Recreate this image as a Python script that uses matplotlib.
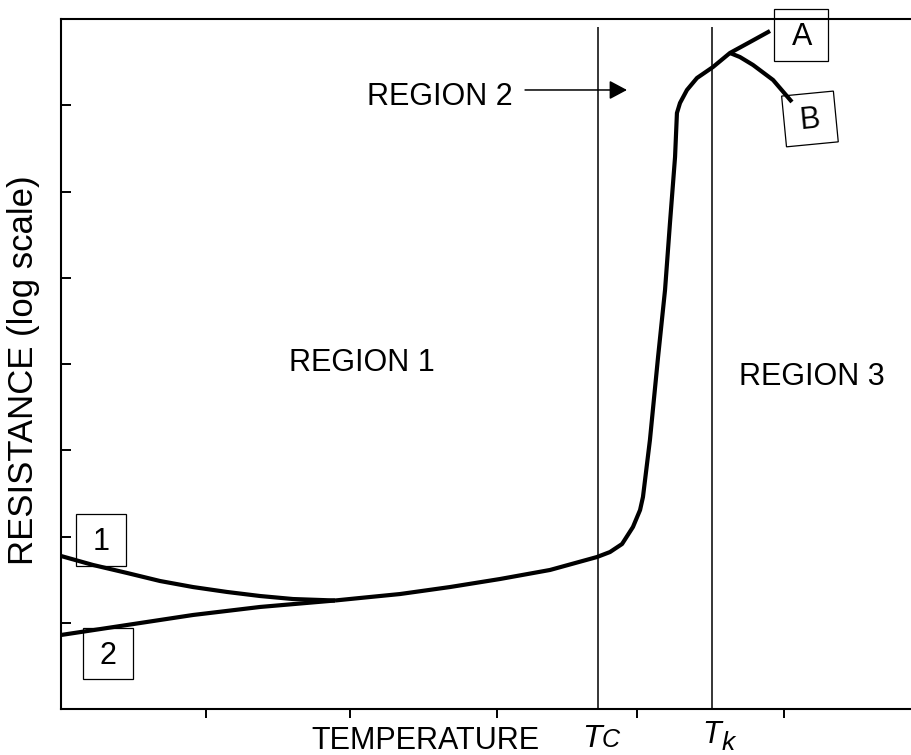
import matplotlib
matplotlib.use("Agg")
import matplotlib.pyplot as plt
from matplotlib.patches import Rectangle
import matplotlib.transforms as mtransforms

plt.rcParams['font.family'] = ['Liberation Sans', 'DejaVu Sans']

# ---- data (x: temperature units, y: log-resistance units) ----
curve1_x = [0.000, 0.220, 0.455, 0.682, 0.909, 1.143, 1.371, 1.598, 1.887]
curve1_y = [1.774, 1.670, 1.577, 1.484, 1.414, 1.357, 1.310, 1.275, 1.258]

curve2_x = [0.000, 0.455, 0.909, 1.371, 1.887]
curve2_y = [0.858, 0.974, 1.090, 1.183, 1.258]

main_x = [1.887, 2.059, 2.335, 2.679, 3.023, 3.368, 3.691, 3.781, 3.864, 3.939,
          3.988, 4.008, 4.056, 4.112, 4.160, 4.194, 4.229, 4.242, 4.263, 4.311,
          4.380, 4.490, 4.607, 4.745, 4.883]
main_y = [1.258, 1.287, 1.333, 1.414, 1.507, 1.612, 1.762, 1.820, 1.913, 2.110,
          2.307, 2.458, 3.119, 4.081, 4.858, 5.635, 6.400, 6.910, 7.026, 7.177,
          7.316, 7.443, 7.606, 7.733, 7.861]

branchB_x = [4.607, 4.676, 4.766, 4.904, 5.034]
branchB_y = [7.606, 7.559, 7.467, 7.293, 7.038]

Tc = 3.698
Tk = 4.483
x_ticks = [1.0, 1.99, 3.0, 3.97, 4.98]
y_ticks = [1, 2, 3, 4, 5, 6, 7]

W, H = 912, 755
fig = plt.figure(figsize=(W / 100, H / 100), dpi=100)
ax = fig.add_axes([61 / W, 46 / H, 851 / W, 690 / H])
ax.set_xlim(0, 851 / 145.2)
ax.set_ylim(0, 8)

ax.spines['right'].set_visible(False)
for s in ['left', 'top', 'bottom']:
    ax.spines[s].set_linewidth(1.5)

ax.set_xticks(x_ticks)
ax.set_xticklabels([])
ax.set_yticks(y_ticks)
ax.set_yticklabels([])
ax.tick_params(axis='x', direction='out', length=6.5, width=1.4)
ax.tick_params(axis='y', direction='in', length=7.5, width=1.4)

# vertical lines at Tc and Tk
ax.vlines([Tc, Tk], 0, 7.91, colors='black', linewidth=1.1)

lw = 3.0
kw = dict(color='black', linewidth=lw, solid_capstyle='butt', solid_joinstyle='round')
ax.plot(curve1_x, curve1_y, **kw)
ax.plot(curve2_x, curve2_y, **kw)
ax.plot(main_x, main_y, **kw)
ax.plot(branchB_x, branchB_y, **kw)

fs = 22
ax.text(2.073, 3.919, 'REGION 1', fontsize=fs, ha='center', va='baseline')
ax.text(5.172, 3.757, 'REGION 3', fontsize=fs, ha='center', va='baseline')
ax.text(2.610, 7.003, 'REGION 2', fontsize=fs, ha='center', va='baseline')
ax.annotate('', xy=(3.898, 7.177), xytext=(3.196, 7.177),
            arrowprops=dict(arrowstyle='-|>,head_length=0.9,head_width=0.48',
                            mutation_scale=12, lw=1.1, color='black',
                            shrinkA=0, shrinkB=0))

# labelled boxes
def box(cx, cy, w, h, angle=0.0):
    tr = (mtransforms.Affine2D().rotate_deg(angle)
          + mtransforms.ScaledTranslation(cx, cy, ax.transData))
    r = Rectangle((-w / 2, -h / 2), w, h, fill=False, edgecolor='black',
                  linewidth=0.9, transform=tr, clip_on=False)
    ax.add_patch(r)

box(0.2755, 1.959, 50, 52)
box(0.324, 0.643, 50, 51)
box(5.096, 7.814, 54, 52)
box(5.158, 6.841, 52, 51, angle=5.5)

ax.text(0.2755, 1.843, '1', fontsize=fs, ha='center', va='baseline')
ax.text(0.320, 0.522, '2', fontsize=fs, ha='center', va='baseline')
ax.text(5.103, 7.699, 'A', fontsize=fs, ha='center', va='baseline', clip_on=False)
ax.text(5.158, 6.823, 'B', fontsize=fs, ha='center', va='center', rotation=5.5,
        rotation_mode='anchor')

# axis labels
ax.set_xlabel('TEMPERATURE', fontsize=fs)
ax.xaxis.set_label_coords((425 - 61) / 851, (709 - 749) / 690)
ax.xaxis.label.set_verticalalignment('baseline')

ax.set_ylabel('RESISTANCE (log scale)', fontsize=25)
ax.yaxis.set_label_coords((40 - 61) / 851, (709 - 370) / 690)

def ftext(px, py, s, **k):
    fig.text(px / W, 1 - py / H, s, ha='center', va='baseline', style='italic', **k)

ftext(591.5, 747, 'T', fontsize=23)
ftext(611, 747, 'C', fontsize=18)
ftext(712, 743, 'T', fontsize=22)
ftext(728, 750, 'k', fontsize=19)

fig.savefig('out.png', dpi=100)
